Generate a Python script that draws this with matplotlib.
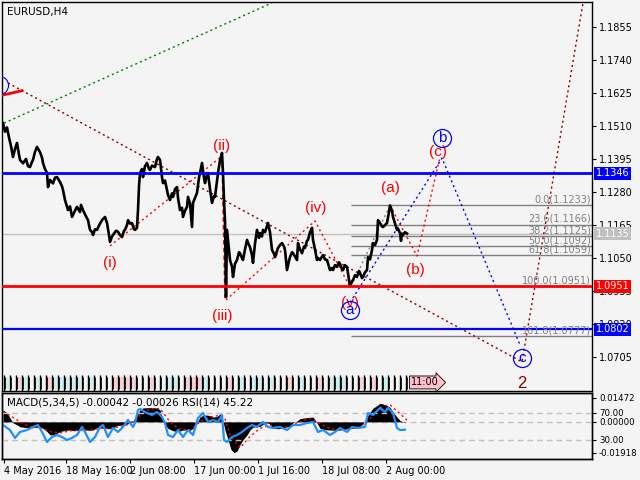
import numpy as np
import matplotlib.pyplot as plt
from matplotlib.patches import Rectangle

# EURUSD H4 closes (bar index, price); one bar = one pixel column on the chart
path = [(3,1.1520),(5,1.1490),(7,1.1505),(9,1.1470),(11,1.1440),(13,1.1402),(15,1.1430),(17,1.1451),
        (19,1.1410),(20,1.1392),(23,1.1380),(26,1.1395),(28,1.1370),(30,1.1367),(32,1.1385),(33,1.1392),
        (35,1.1420),(37,1.1437),(40,1.1419),(42,1.1400),(43,1.1381),(45,1.1360),(47,1.1346),(48,1.1297),
        (50,1.1322),(53,1.1310),(55,1.1330),(57,1.1332),(60,1.1315),(62,1.1300),(63,1.1287),(65,1.1252),
        (68,1.1217),(70,1.1230),(72,1.1193),(75,1.1215),(77,1.1228),(80,1.1210),(81,1.1235),(83,1.1217),
        (86,1.1195),(88,1.1182),(90,1.1148),(92,1.1140),(93,1.1130),(95,1.1150),(97,1.1148),(100,1.1170),
        (102,1.1182),(105,1.1193),(107,1.1172),(109,1.1130),(110,1.1106),(112,1.1125),(113,1.1130),
        (116,1.1145),(118,1.1141),(120,1.1130),(122,1.1123),(124,1.1145),(125,1.1148),(127,1.1165),
        (128,1.1182),(130,1.1170),(132,1.1172),(134,1.1150),(135,1.1148),(137,1.1155),(138,1.1217),
        (139,1.1300),(140,1.1346),(142,1.1360),(143,1.1332),(145,1.1370),(147,1.1381),(149,1.1360),
        (150,1.1357),(152,1.1372),(155,1.1367),(157,1.1395),(158,1.1402),(160,1.1392),(162,1.1332),
        (163,1.1311),(165,1.1320),(167,1.1287),(168,1.1270),(170,1.1252),(172,1.1275),(173,1.1263),
        (175,1.1290),(177,1.1297),(178,1.1260),(180,1.1217),(182,1.1225),(183,1.1193),(185,1.1215),
        (187,1.1228),(188,1.1263),(190,1.1240),(192,1.1158),(193,1.1242),(195,1.1260),(197,1.1277),
        (199,1.1330),(200,1.1346),(202,1.1381),(204,1.1330),(205,1.1311),(207,1.1340),(208,1.1346),
        (210,1.1290),(212,1.1242),(214,1.1265),(215,1.1263),(217,1.1320),(218,1.1346),(220,1.1390),
        (222,1.1416),(223,1.1346),(224,1.1250),(225,1.1182),(226,1.0914),(227,1.1148),(229,1.1080),
        (230,1.1043),(232,1.1020),(233,1.0984),(235,1.1030),(237,1.1043),(239,1.1070),(240,1.1067),
        (242,1.1050),(243,1.1043),(245,1.1080),(247,1.1113),(249,1.1095),(250,1.1088),(252,1.1060),
        (253,1.1033),(255,1.1100),(257,1.1148),(259,1.1120),(260,1.1137),(262,1.1125),(263,1.1148),
        (265,1.1140),(268,1.1172),(270,1.1140),(272,1.1078),(274,1.1065),(275,1.1053),(277,1.1075),
        (278,1.1085),(280,1.1095),(282,1.1102),(284,1.1090),(285,1.1078),(287,1.1008),(289,1.1040),
        (290,1.1053),(292,1.1070),(293,1.1067),(295,1.1055),(297,1.1043),(298,1.1102),(300,1.1080),
        (302,1.1067),(304,1.1090),(305,1.1085),(307,1.1110),(308,1.1113),(310,1.1140),(312,1.1155),
        (313,1.1113),(315,1.1080),(317,1.1043),(318,1.1050),(320,1.1043),(322,1.1055),(323,1.1060),
        (325,1.1045),(327,1.1043),(329,1.1020),(330,1.1008),(332,1.1015),(333,1.1008),(335,1.1025),
        (337,1.1019),(339,1.1035),(340,1.1030),(342,1.1010),(343,1.1008),(345,1.1025),(347,1.1019),
        (349,1.0975),(350,1.0952),(352,1.0968),(353,1.0973),(355,1.0990),(357,1.0984),(359,1.1005),
        (360,1.0998),(362,1.0980),(363,1.0984),(365,1.1000),(367,1.1008),(368,1.1053),(370,1.1045),
        (372,1.1078),(373,1.1102),(375,1.1095),(377,1.1113),(378,1.1182),(380,1.1172),(382,1.1160),
        (383,1.1158),(385,1.1165),(387,1.1172),(389,1.1210),(390,1.1233),(392,1.1215),(393,1.1193),
        (395,1.1170),(397,1.1148),(398,1.1152),(400,1.1137),(401,1.1110),(402,1.1135),(403,1.1130),
        (405,1.1140),(407,1.1135)]
bars, close = zip(*path)

price_ticks = [1.1855, 1.1740, 1.1625, 1.1510, 1.1395, 1.1280, 1.1165, 1.1050, 1.0935, 1.0820, 1.0705]
time_ticks = [4, 66, 130, 194, 258, 322, 386]
time_labels = ['4 May 2016', '18 May 16:00', '2 Jun 08:00', '17 Jun 00:00', '1 Jul 16:00',
               '18 Jul 08:00', '2 Aug 00:00']

# horizontal levels
level_blue_hi = 1.1346
level_red = 1.0951
level_blue_lo = 1.0802
last_price = 1.1135

# fibonacci grid
fib_pct = ['0.0', '23.6', '38.2', '50.0', '61.8', '100.0', '161.8']
fib_val = [1.1233, 1.1166, 1.1125, 1.1092, 1.1059, 1.0951, 1.0777]

# wave lines
major_x, major_y = [8, 522, 583], [1.1660, 1.0688, 1.1939]
trend_x, trend_y = [4, 272], [1.1520, 1.1939]
minor_x, minor_y = [110, 222], [1.1092, 1.1405]
drop_x, drop_y = [222, 225], [1.1405, 1.0904]
minor2_x, minor2_y = [226, 315, 350], [1.0904, 1.1179, 1.0949]
abc_x, abc_y = [390, 417, 440], [1.1233, 1.1057, 1.1402]
blue_x, blue_y = [350, 442, 520], [1.0895, 1.1398, 1.0747]

wave_labels = ['(i)', '(ii)', '(iii)', '(iv)', '(v)', '(a)', '(b)', '(c)']
wave_lx = [110, 222, 222, 316, 350, 390, 415, 438]
wave_ly = [1.1033, 1.1440, 1.0848, 1.1224, 1.0893, 1.1294, 1.1008, 1.1419]
circ_labels = ['b', 'a', 'c']
circ_x = [442, 350, 522]
circ_y = [1.1468, 1.0869, 1.0702]

# daily markers strip: p = pink, c = cyan, - = plain
day_colors = "c-pc-c-pcc" "ccc-c---pp" "pp--p--cc-" "pppc---p-c" "-cc-c--p-c" "--p-ccc--p" "-p-c----"

# MACD(5,34,5) histogram and signal
macd_x = [3,7,10,13,17,20,25,30,37,40,43,47,50,53,57,60,65,70,75,80,85,90,93,97,100,103,108,113,117,122,
          127,130,133,137,140,143,150,157,160,162,165,168,173,178,183,190,193,197,200,203,207,210,213,217,
          220,222,225,228,231,234,237,240,243,247,250,253,257,260,263,267,270,273,278,283,287,290,293,297,
          300,305,310,313,317,320,325,330,335,340,345,350,355,360,363,367,370,373,377,380,383,387,390,393,
          397,400,403,405]
macd = [0.0074,0.0055,0.0025,-0.0006,-0.0018,-0.0030,-0.0034,-0.0037,-0.0033,-0.0030,-0.0040,-0.0060,
        -0.0080,-0.0080,-0.0070,-0.0060,-0.0052,-0.0050,-0.0055,-0.0048,-0.0050,-0.0052,-0.0050,-0.0035,
        -0.0030,-0.0040,-0.0042,-0.0038,-0.0022,-0.0020,-0.0018,0.0005,0.0005,0.0040,0.0074,0.0086,0.0088,
        0.0086,0.0074,0.0030,-0.0015,-0.0040,-0.0055,-0.0060,-0.0050,-0.0052,-0.0040,-0.0005,0.0030,0.0040,
        0.0042,0.0038,0.0030,0.0032,0.0050,0.0030,-0.0050,-0.0110,-0.0170,-0.0190,-0.0180,-0.0140,-0.0110,
        -0.0080,-0.0050,-0.0032,-0.0030,-0.0028,-0.0015,-0.0005,-0.0015,-0.0040,-0.0042,-0.0038,-0.0030,
        -0.0028,-0.0005,0.0005,0.0020,0.0025,0.0028,0.0030,-0.0006,-0.0040,-0.0048,-0.0050,-0.0052,-0.0050,
        -0.0045,-0.0040,-0.0038,-0.0030,-0.0010,0.0030,0.0060,0.0085,0.0100,0.0115,0.0110,0.0100,0.0090,
        0.0060,0.0030,0.0008,0.0000,-0.0004]
sig_x = [3,10,20,30,40,50,60,70,80,90,100,110,120,130,140,150,160,170,180,190,200,210,220,225,230,240,
         250,260,270,280,290,300,310,320,330,340,350,360,370,380,390,400,407]
sig = [0.0060,0.0040,0.0000,-0.0030,-0.0035,-0.0060,-0.0068,-0.0055,-0.0050,-0.0050,-0.0040,-0.0040,
       -0.0030,-0.0010,0.0040,0.0080,0.0082,0.0000,-0.0045,-0.0050,0.0000,0.0030,0.0040,0.0020,-0.0080,
       -0.0160,-0.0090,-0.0040,-0.0020,-0.0035,-0.0030,0.0000,0.0022,-0.0010,-0.0042,-0.0050,-0.0042,
       -0.0032,0.0020,0.0090,0.0105,0.0050,0.0010]

# RSI(14)
rsi_x = [3,10,15,20,27,33,38,42,47,52,57,62,67,72,77,82,85,90,95,100,103,108,113,118,123,128,133,135,
         138,140,147,152,157,162,165,168,173,178,183,188,193,198,203,208,213,218,222,224,227,232,237,242,
         247,252,257,263,268,273,280,287,293,300,307,313,318,323,330,335,340,347,352,358,365,368,373,380,
         385,388,393,397,400,405]
rsi = [52.2,44.8,33.0,41.9,44.8,49.3,52.2,41.9,27.0,34.4,37.4,34.4,30.0,33.0,37.4,49.3,41.9,27.0,34.4,
       49.3,52.2,34.4,47.8,41.9,49.3,59.6,49.3,55.2,74.4,75.9,70.0,67.0,71.5,64.1,55.2,37.4,34.4,44.8,
       34.4,44.8,37.4,62.6,70.0,56.7,59.6,56.7,67.0,30.0,27.0,34.4,37.4,41.9,47.8,52.2,49.3,56.7,49.3,
       47.8,49.3,44.8,52.2,52.2,55.2,56.7,41.9,44.8,37.4,41.9,47.8,41.9,49.3,47.8,49.3,70.0,67.0,77.4,
       71.5,77.4,70.0,47.8,44.8,45.2]

BG = '#f4f4f4'
W, H = 640, 480
plt.rcParams['font.family'] = 'DejaVu Sans'
fig = plt.figure(figsize=(6.4, 4.8), dpi=100, facecolor=BG)

# ---- main price panel
ax = fig.add_axes([2/W, 1 - 391/H, 590/W, 389/H], facecolor=BG)
ax.set_xlim(2, 592)
ax.set_ylim(1.05865, 1.19421)
ax.plot(bars, close, color='black', lw=1.9, zorder=3)

ax.axhline(last_price, color='#c0c0c0', lw=1, zorder=2)
ax.axhline(level_blue_hi, color='#0000ff', lw=2, zorder=4)
ax.axhline(level_red, color='#ff0000', lw=2, zorder=4)
ax.axhline(level_blue_lo, color='#0000ff', lw=1.6, zorder=4)

for pct, v in zip(fib_pct, fib_val):
    ax.hlines(v, 351, 592, color='#808080', lw=1, zorder=2)
    ax.text(591, v + 0.0003, f'{pct}({v:.4f})', color='#808080', fontsize=7,
            ha='right', va='bottom', zorder=5)

dot = (0, (1.5, 2.2))
ax.plot(trend_x, trend_y, color='#008000', lw=1, ls=dot, zorder=2)
ax.plot(major_x, major_y, color='#8b0000', lw=1, ls=dot, zorder=2)
ax.plot(minor_x, minor_y, color='#ff0000', lw=1, ls=dot, zorder=2)
ax.plot(drop_x, drop_y, color='#ff0000', lw=1.1, ls=(0, (3, 2)), zorder=2)
ax.plot(minor2_x, minor2_y, color='#ff0000', lw=1, ls=dot, zorder=2)
ax.plot(abc_x, abc_y, color='#ff0000', lw=1, ls=dot, zorder=2)
ax.plot(blue_x, blue_y, color='#0000ff', lw=1, ls=dot, zorder=2)
ax.plot([351, 390], [1.0951, 1.1233], color='#808080', lw=1, ls=dot, zorder=2)

# wave 1 marker at the left edge
ax.plot([3, 22], [1.1618, 1.1633], color='#ff0000', lw=2, zorder=4)
ax.plot([-1], [1.1653], 'o', ms=13, mfc='none', mec='#0000ff', mew=0.8, zorder=4)

for lab, x, y in zip(wave_labels, wave_lx, wave_ly):
    ax.text(x, y, lab, color='#ff0000', fontsize=11, family='Liberation Sans',
            ha='center', va='center', zorder=6)
for lab, x, y in zip(circ_labels, circ_x, circ_y):
    ax.plot([x], [y], 'o', ms=13, mfc='none', mec='#0000ff', mew=0.9, zorder=6)
    ax.text(x, y, lab, color='#0000ff', fontsize=11, family='Liberation Sans',
            ha='center', va='center', zorder=6)
ax.text(522, 1.0614, '2', color='#8b0000', fontsize=12, family='Liberation Sans',
        ha='center', va='center', zorder=6)

ax.text(5/590, 1 - 10/389, 'EURUSD,H4', transform=ax.transAxes, fontsize=7.5,
        ha='left', va='center')

# daily markers strip
tr = ax.get_xaxis_transform()
fills = {'p': '#ffccd5', 'c': '#c6f2f2'}
for i, c in enumerate(day_colors):
    x0 = 4 + 6 * i
    if c in fills:
        ax.add_patch(Rectangle((x0 + 0.8, 0.004), 4.2, 0.031, transform=tr,
                               fc=fills[c], ec='none', zorder=2))
    ax.vlines(x0, 0.0, 0.041, transform=tr, color='black', lw=1, zorder=3)
    ax.vlines(x0 + 1.3, 0.004, 0.035, transform=tr, color='black', lw=0.6, zorder=3)
ax.text(411, 0.022, '11:00', transform=tr, fontsize=7, ha='left', va='center',
        bbox=dict(boxstyle='rarrow,pad=0.15', fc='#ffc0cb', ec='black', lw=0.6))

ax.set_xticks([])
ax.yaxis.tick_right()
ax.set_yticks(price_ticks)
ax.set_yticklabels([f'{t:.4f}' for t in price_ticks])
ax.tick_params(axis='y', direction='out', length=3, labelsize=7, pad=2)

for v, col in [(level_blue_hi, '#0000ff'), (last_price, '#c0c0c0'),
               (level_red, '#ff0000'), (level_blue_lo, '#0000ff')]:
    ax.text(1.006, v, f'{v:.4f}', transform=ax.get_yaxis_transform(), color='white',
            fontsize=7, ha='left', va='center', zorder=10, clip_on=False,
            bbox=dict(boxstyle='square,pad=0.15', fc=col, ec='none'))

# ---- indicator panel
axm = fig.add_axes([2/W, 1 - 459/H, 590/W, 66/H], facecolor=BG)
axm.set_xlim(2, 592)
axm.set_ylim(-0.02288, 0.01780)
axm.fill_between(macd_x, 0, macd, color='black', lw=0)
axm.plot(sig_x, sig, color='#ff0000', lw=1, ls=dot)
axm.axhline(0, color='#c0c0c0', lw=1, ls=(0, (4, 3)), zorder=0)

axr = axm.twinx()
axr.set_ylim(1.85, 99.6)
axr.axhline(70, color='#c0c0c0', lw=1, ls=(0, (4, 3)), zorder=0)
axr.axhline(30, color='#c0c0c0', lw=1, ls=(0, (4, 3)), zorder=0)
axr.plot(rsi_x, rsi, color='#1e90ff', lw=1.6)

axm.text(5/590, 0.86, 'MACD(5,34,5) -0.00042 -0.00026 RSI(14) 45.22', transform=axm.transAxes,
         fontsize=7.5, ha='left', va='center')

axm.yaxis.tick_right()
axm.set_yticks([0.01472, 0.0, -0.01918])
axm.set_yticklabels(['0.01472', '0.00000', '-0.01918'])
axm.tick_params(axis='y', direction='out', length=3, labelsize=6.2, pad=2)
axr.set_yticks([70, 30])
axr.set_yticklabels(['70.00', '30.00'])
axr.tick_params(axis='y', direction='out', length=3, labelsize=6.2, pad=2)

axm.set_xticks(time_ticks)
axm.set_xticklabels(time_labels)
axm.tick_params(axis='x', direction='out', length=3, labelsize=7, pad=2)
for lbl in axm.get_xticklabels():
    lbl.set_ha('left')

for a in (ax, axm, axr):
    for s in a.spines.values():
        s.set_color('black')
        s.set_linewidth(1)

fig.savefig('out.png', dpi=100, facecolor=BG)
